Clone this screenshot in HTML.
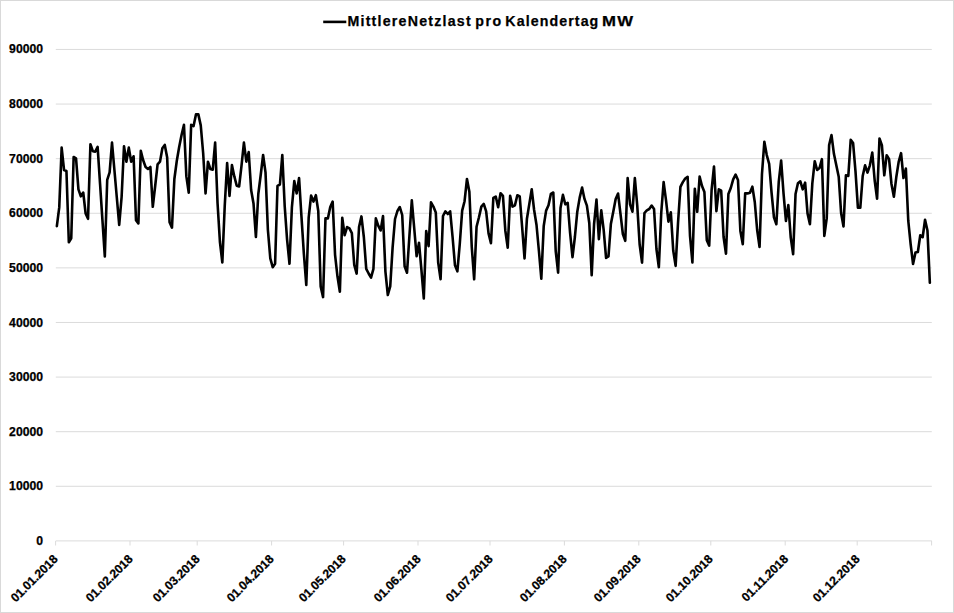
<!DOCTYPE html>
<html><head><meta charset="utf-8"><title>MittlereNetzlast pro Kalendertag MW</title>
<style>
html,body{margin:0;padding:0;background:#fff;}
body{width:954px;height:613px;overflow:hidden;position:relative;font-family:"Liberation Sans",sans-serif;font-weight:bold;color:#000;-webkit-text-stroke:0.25px #000;}
#chart{position:absolute;left:0;top:0;width:954px;height:613px;box-sizing:border-box;border:1px solid #d9d9d9;background:#fff;}
svg{position:absolute;left:0;top:0;}
.yl{position:absolute;left:0;width:43px;text-align:right;font-size:12.2px;line-height:14px;height:14px;letter-spacing:0;}
.xl{position:absolute;white-space:nowrap;font-size:12.15px;line-height:12px;height:12px;transform-origin:100% 50%;transform:rotate(-45deg);text-align:right;}
#title{position:absolute;left:348px;top:11px;width:300px;white-space:nowrap;letter-spacing:1.1px;font-size:14.2px;line-height:20px;height:20px;}
#title span{position:absolute;top:0;display:block;}
</style></head><body>
<div id="chart"></div>
<svg width="954" height="613" viewBox="0 0 954 613">

<line x1="55.8" y1="540.90" x2="931.8" y2="540.90" stroke="#dbdbdb" stroke-width="1"/>
<line x1="55.8" y1="486.29" x2="931.8" y2="486.29" stroke="#dbdbdb" stroke-width="1"/>
<line x1="55.8" y1="431.69" x2="931.8" y2="431.69" stroke="#dbdbdb" stroke-width="1"/>
<line x1="55.8" y1="377.08" x2="931.8" y2="377.08" stroke="#dbdbdb" stroke-width="1"/>
<line x1="55.8" y1="322.48" x2="931.8" y2="322.48" stroke="#dbdbdb" stroke-width="1"/>
<line x1="55.8" y1="267.87" x2="931.8" y2="267.87" stroke="#dbdbdb" stroke-width="1"/>
<line x1="55.8" y1="213.27" x2="931.8" y2="213.27" stroke="#dbdbdb" stroke-width="1"/>
<line x1="55.8" y1="158.66" x2="931.8" y2="158.66" stroke="#dbdbdb" stroke-width="1"/>
<line x1="55.8" y1="104.06" x2="931.8" y2="104.06" stroke="#dbdbdb" stroke-width="1"/>
<line x1="55.8" y1="49.45" x2="931.8" y2="49.45" stroke="#dbdbdb" stroke-width="1"/>
<line x1="55.60" y1="540.9" x2="55.60" y2="545.5" stroke="#dbdbdb" stroke-width="1"/>
<line x1="130.00" y1="540.9" x2="130.00" y2="545.5" stroke="#dbdbdb" stroke-width="1"/>
<line x1="197.20" y1="540.9" x2="197.20" y2="545.5" stroke="#dbdbdb" stroke-width="1"/>
<line x1="271.60" y1="540.9" x2="271.60" y2="545.5" stroke="#dbdbdb" stroke-width="1"/>
<line x1="343.60" y1="540.9" x2="343.60" y2="545.5" stroke="#dbdbdb" stroke-width="1"/>
<line x1="418.00" y1="540.9" x2="418.00" y2="545.5" stroke="#dbdbdb" stroke-width="1"/>
<line x1="490.00" y1="540.9" x2="490.00" y2="545.5" stroke="#dbdbdb" stroke-width="1"/>
<line x1="564.40" y1="540.9" x2="564.40" y2="545.5" stroke="#dbdbdb" stroke-width="1"/>
<line x1="638.80" y1="540.9" x2="638.80" y2="545.5" stroke="#dbdbdb" stroke-width="1"/>
<line x1="710.80" y1="540.9" x2="710.80" y2="545.5" stroke="#dbdbdb" stroke-width="1"/>
<line x1="785.20" y1="540.9" x2="785.20" y2="545.5" stroke="#dbdbdb" stroke-width="1"/>
<line x1="857.20" y1="540.9" x2="857.20" y2="545.5" stroke="#dbdbdb" stroke-width="1"/>
<line x1="931.60" y1="540.9" x2="931.60" y2="545.5" stroke="#dbdbdb" stroke-width="1"/>
<line x1="323.2" y1="21.9" x2="346.3" y2="21.9" stroke="#000" stroke-width="2.6"/>
<polyline fill="none" stroke="#000" stroke-width="2.6" stroke-linejoin="round" stroke-linecap="round" points="56.85,226.2 59.25,207.4 61.65,147.6 64.05,170.0 66.44,171.0 68.84,242.3 71.24,238.3 73.64,157.0 76.04,158.3 78.44,189.3 80.83,196.3 83.23,192.5 85.63,213.5 88.03,218.8 90.43,144.2 92.83,151.2 95.22,151.6 97.62,146.9 100.02,183.4 102.42,219.9 104.82,256.4 107.22,179.8 109.61,172.4 112.01,142.6 114.41,170.0 116.81,197.5 119.21,224.9 121.61,197.0 124.00,146.2 126.40,161.7 128.80,147.6 131.20,161.7 133.60,156.3 136.00,220.2 138.39,223.5 140.79,150.9 143.19,160.3 145.59,167.0 147.99,169.0 150.39,167.0 152.78,206.8 155.18,186.0 157.58,164.4 159.98,161.7 162.38,148.3 164.78,144.9 167.17,157.6 169.57,222.2 171.97,227.6 174.37,179.0 176.77,161.0 179.17,147.0 181.56,135.0 183.96,124.8 186.36,176.4 188.76,192.7 191.16,124.8 193.56,126.1 195.95,114.4 198.35,114.4 200.75,125.4 203.15,153.0 205.55,193.4 207.95,161.7 210.34,169.0 212.74,169.7 215.14,142.6 217.54,203.0 219.94,242.0 222.34,262.5 224.73,206.0 227.13,163.0 229.53,196.0 231.93,165.0 234.33,176.4 236.73,185.8 239.12,186.5 241.52,165.7 243.92,142.6 246.32,161.7 248.72,152.0 251.12,190.0 253.51,203.4 255.91,237.0 258.31,194.0 260.71,175.0 263.11,155.0 265.51,172.4 267.90,230.0 270.30,258.4 272.70,267.2 275.10,263.8 277.50,185.8 279.90,184.5 282.30,155.0 284.69,206.0 287.09,239.6 289.49,263.8 291.89,207.4 294.29,181.1 296.69,193.4 299.08,178.0 301.48,216.8 303.88,254.0 306.28,285.0 308.68,217.7 311.08,195.6 313.47,201.6 315.87,195.2 318.27,211.0 320.67,286.4 323.07,297.1 325.47,218.4 327.86,218.4 330.26,207.0 332.66,201.6 335.06,254.8 337.46,276.3 339.86,291.7 342.25,217.7 344.65,235.2 347.05,227.1 349.45,228.4 351.85,233.1 354.25,264.9 356.64,273.6 359.04,227.0 361.44,216.4 363.84,237.0 366.24,268.9 368.64,273.5 371.03,277.6 373.43,268.8 375.83,218.4 378.23,225.7 380.63,230.5 383.03,216.0 385.42,271.6 387.82,295.0 390.22,286.4 392.62,247.4 395.02,219.0 397.42,211.0 399.81,207.0 402.21,215.0 404.61,266.2 407.01,272.7 409.41,236.0 411.81,200.3 414.20,228.0 416.60,256.2 419.00,242.7 421.40,269.6 423.80,298.4 426.20,231.0 428.59,246.1 430.99,202.3 433.39,206.6 435.79,212.6 438.19,262.6 440.59,279.3 442.98,216.0 445.38,211.3 447.78,214.0 450.18,211.3 452.58,237.0 454.98,265.3 457.37,271.3 459.77,244.0 462.17,210.6 464.57,201.2 466.97,179.0 469.37,191.8 471.76,247.0 474.16,279.3 476.56,226.7 478.96,217.3 481.36,206.6 483.76,203.9 486.15,211.3 488.55,233.4 490.95,243.3 493.35,197.9 495.75,196.5 498.15,207.3 500.55,193.2 502.94,195.9 505.34,230.7 507.74,247.8 510.14,195.9 512.54,206.6 514.94,205.3 517.33,195.2 519.73,196.5 522.13,227.0 524.53,258.5 526.93,218.7 529.33,203.9 531.72,189.2 534.12,210.0 536.52,225.0 538.92,251.0 541.32,278.7 543.72,226.0 546.11,210.6 548.51,205.3 550.91,193.8 553.31,192.5 555.71,251.0 558.11,272.6 560.50,208.0 562.90,194.9 565.30,204.3 567.70,202.9 570.10,233.0 572.50,257.2 574.89,237.0 577.29,211.7 579.69,197.6 582.09,187.5 584.49,198.9 586.89,205.6 589.28,223.0 591.68,275.3 594.08,224.0 596.48,199.6 598.88,239.1 601.28,210.3 603.67,229.8 606.07,257.9 608.47,256.5 610.87,224.0 613.27,211.7 615.67,199.0 618.06,193.5 620.46,213.7 622.86,234.0 625.26,240.8 627.66,178.0 630.06,204.3 632.45,211.7 634.85,178.0 637.25,205.6 639.65,244.5 642.05,262.6 644.45,213.0 646.84,210.3 649.24,209.0 651.64,205.6 654.04,209.0 656.44,249.0 658.84,267.3 661.23,213.0 663.63,182.1 666.03,200.3 668.43,221.7 670.83,212.3 673.23,250.5 675.62,265.9 678.02,223.0 680.42,186.8 682.82,182.1 685.22,178.5 687.62,176.8 690.01,236.0 692.41,262.4 694.81,188.7 697.21,211.8 699.61,176.6 702.01,186.0 704.40,192.0 706.80,240.3 709.20,245.6 711.60,190.0 714.00,166.5 716.40,211.1 718.80,189.3 721.19,190.7 723.59,237.0 725.99,253.7 728.39,194.0 730.79,188.0 733.19,179.3 735.58,174.6 737.98,180.0 740.38,230.9 742.78,244.3 745.18,193.4 747.58,193.4 749.97,192.7 752.37,186.7 754.77,202.0 757.17,230.0 759.57,247.0 761.97,174.0 764.36,141.7 766.76,155.1 769.16,163.8 771.56,192.7 773.96,217.4 776.36,224.2 778.75,182.0 781.15,160.5 783.55,193.6 785.95,221.0 788.35,205.0 790.75,237.6 793.14,254.3 795.54,194.0 797.94,183.3 800.34,181.3 802.74,189.3 805.14,182.6 807.53,213.4 809.93,224.2 812.33,183.3 814.73,161.2 817.13,170.0 819.53,168.0 821.92,159.2 824.32,235.9 826.72,218.4 829.12,145.1 831.52,135.1 833.92,153.8 836.31,165.3 838.71,176.7 841.11,213.0 843.51,226.5 845.91,175.3 848.31,176.0 850.70,139.8 853.10,143.1 855.50,171.3 857.90,207.7 860.30,207.7 862.70,176.0 865.09,165.3 867.49,172.6 869.89,165.3 872.29,152.5 874.69,180.5 877.09,198.8 879.48,138.5 881.88,145.1 884.28,175.3 886.68,155.2 889.08,159.2 891.48,184.0 893.87,196.8 896.27,177.3 898.67,161.9 901.07,153.2 903.47,178.0 905.87,168.6 908.26,220.7 910.66,244.3 913.06,264.0 915.46,252.6 917.86,252.0 920.26,235.2 922.65,237.2 925.05,219.8 927.45,230.5 929.85,282.8"/>
</svg>
<div id="title"><span style="left:-0.6px;letter-spacing:1.23px">MittlereNetzlast</span><span style="left:127.2px;letter-spacing:1.6px">pro</span><span style="left:157.3px;letter-spacing:1.1px">Kalendertag</span><span style="left:254px;transform-origin:0 50%;transform:scaleX(1.18)">MW</span></div>
<div class="yl" style="top:533.9px">0</div>
<div class="yl" style="top:479.3px">10000</div>
<div class="yl" style="top:424.7px">20000</div>
<div class="yl" style="top:370.1px">30000</div>
<div class="yl" style="top:315.5px">40000</div>
<div class="yl" style="top:260.9px">50000</div>
<div class="yl" style="top:206.3px">60000</div>
<div class="yl" style="top:151.7px">70000</div>
<div class="yl" style="top:97.1px">80000</div>
<div class="yl" style="top:42.4px">90000</div>
<div class="xl" style="right:898.0px;top:551.0px">01.01.2018</div>
<div class="xl" style="right:823.6px;top:551.0px">01.02.2018</div>
<div class="xl" style="right:756.4px;top:551.0px">01.03.2018</div>
<div class="xl" style="right:682.0px;top:551.0px">01.04.2018</div>
<div class="xl" style="right:610.0px;top:551.0px">01.05.2018</div>
<div class="xl" style="right:535.6px;top:551.0px">01.06.2018</div>
<div class="xl" style="right:463.6px;top:551.0px">01.07.2018</div>
<div class="xl" style="right:389.2px;top:551.0px">01.08.2018</div>
<div class="xl" style="right:314.8px;top:551.0px">01.09.2018</div>
<div class="xl" style="right:242.8px;top:551.0px">01.10.2018</div>
<div class="xl" style="right:168.4px;top:551.0px">01.11.2018</div>
<div class="xl" style="right:96.4px;top:551.0px">01.12.2018</div>
</body></html>
